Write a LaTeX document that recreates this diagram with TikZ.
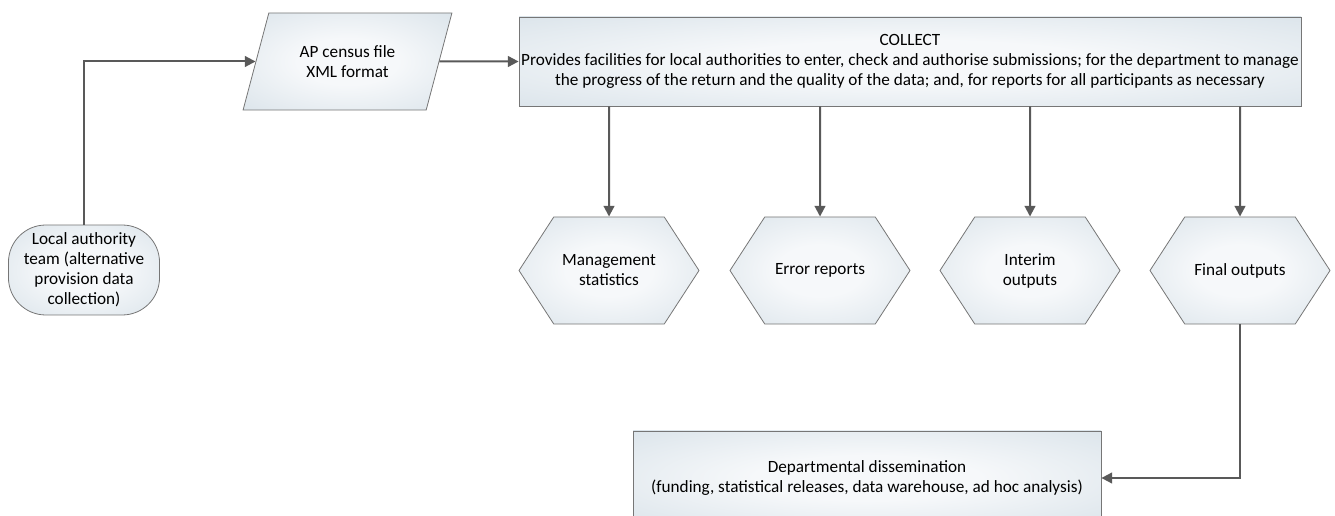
\documentclass[tikz,border=0pt]{standalone}
\usepackage{fontspec}
\setmainfont{Carlito}
\usetikzlibrary{arrows.meta}
\usetikzlibrary{shapes.geometric}
\usetikzlibrary{shapes.symbols}
\definecolor{shadein}{RGB}{246,248,250}
\definecolor{shadeout}{RGB}{204,217,226}
\definecolor{edgegray}{RGB}{118,118,118}
\definecolor{flowgray}{RGB}{89,89,89}
\pgfdeclareradialshading{boxshade}{\pgfpoint{0bp}{0bp}}{color(0bp)=(shadein); color(12bp)=(shadein); color(50bp)=(shadeout); color(60bp)=(shadeout)}
\tikzset{
	box/.style={draw=edgegray, line width=0.6pt, shading=boxshade, align=center,
		font=\fontsize{12.9}{15}\selectfont, inner sep=0pt},
	terminal/.style={rectangle, rounded corners=28pt, minimum width=113.3pt, minimum height=67.5pt},
	datafile/.style={trapezium, trapezium left angle=64, trapezium right angle=116,
		trapezium stretches=true, minimum width=156.8pt, minimum height=72.8pt},
	process/.style={rectangle, minimum height=66.8pt},
	outcome/.style={signal, signal to=east and west, signal pointer angle=114,
		minimum width=135pt, minimum height=80.3pt},
	flow/.style={draw=flowgray, line width=1.5pt, -{Triangle[length=8pt,width=8pt]}}
}

\begin{document}
\begin{tikzpicture}[x=0.75pt,y=-0.75pt]
	\useasboundingbox (0,0) rectangle (1335,516);
	\clip (0,0) rectangle (1335,516);
	\node[box, terminal] (team) at (84,270) {Local authority\\team (alternative\\provision data\\collection)};
	\node[box, datafile] (apfile) at (347.5,61.5) {AP census file\\XML format};
	\node[box, process, minimum width=586.5pt] (collect) at (910,61.5)
		{COLLECT\\Provides facilities for local authorities to enter, check and authorise submissions; for the department to manage\\the progress of the return and the quality of the data; and, for reports for all participants as necessary};
	\node[box, outcome] (mgmt) at (609,270.5) {Management\\statistics};
	\node[box, outcome] (errors) at (820,270.5) {Error reports};
	\node[box, outcome] (interim) at (1030,270.5) {Interim\\outputs};
	\node[box, outcome] (final) at (1240,270.5) {Final outputs};
	\node[box, process, minimum width=351pt, minimum height=70.5pt] (dissem) at (867,478)
		{Departmental dissemination\\(funding, statistical releases, data warehouse, ad hoc analysis)};

	\draw[flow] (team.north) |- (apfile);
	\draw[flow] (apfile) -- (collect);
	\draw[flow] (collect.south -| mgmt) -- (mgmt);
	\draw[flow] (collect.south -| errors) -- (errors);
	\draw[flow] (collect.south -| interim) -- (interim);
	\draw[flow] (collect.south -| final) -- (final);
	\draw[flow] (final) |- (dissem);
\end{tikzpicture}
\end{document}
